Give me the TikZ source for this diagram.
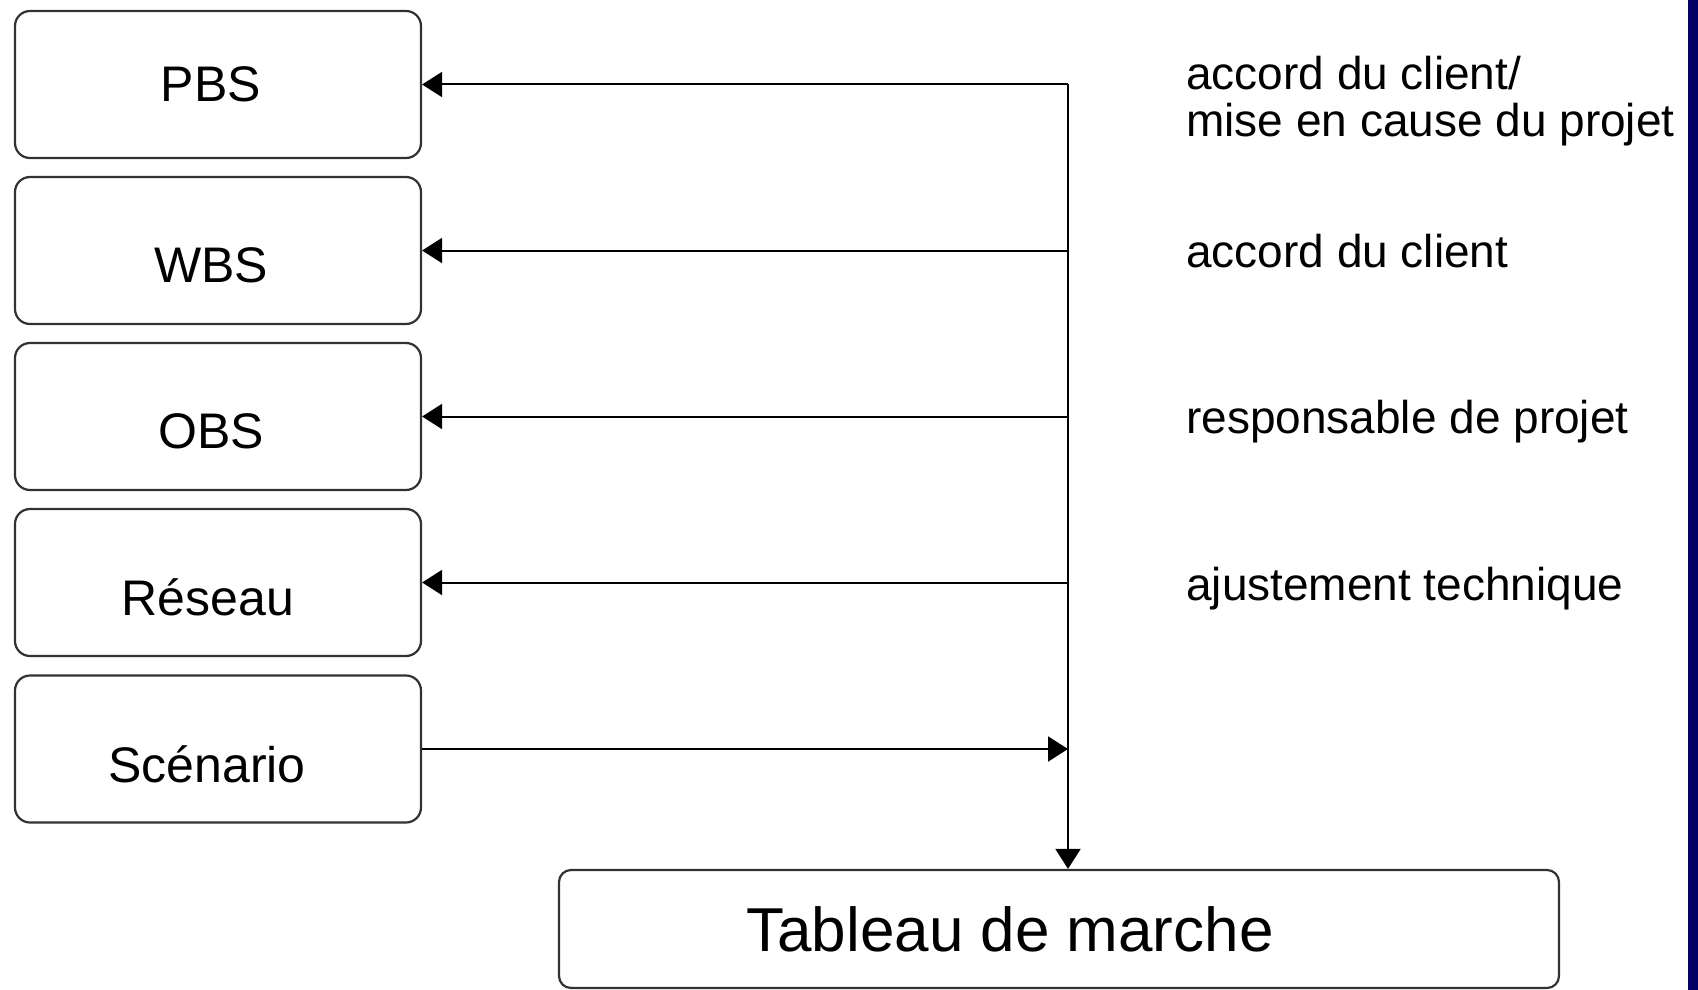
\documentclass[tikz,border=0pt]{standalone}
\usepackage{fontspec}
\setmainfont{Liberation Sans}
\usetikzlibrary{arrows.meta}
\definecolor{navybar}{RGB}{2,2,102}
\definecolor{boxline}{RGB}{50,50,50}
\begin{document}
\begin{tikzpicture}[x=1pt,y=-1pt,
  box/.style={draw=boxline,line width=2.2pt,rounded corners=15pt,minimum width=406pt,minimum height=147pt,inner sep=0pt},
  boxtext/.style={font=\fontsize{50}{56}\selectfont},
  note/.style={anchor=west,inner sep=0pt,align=left,font=\fontsize{46}{47}\selectfont},
  conn/.style={line width=2pt,-{Triangle[length=20pt,width=25pt]}}]
\useasboundingbox (0,0) rectangle (1698,990);
\fill[white] (0,0) rectangle (1698,990);
\fill[navybar] (1688,0) rectangle (1698,990);
% left boxes
\node[box,label={[boxtext,xshift=-7pt]center:PBS}] (pbs) at (218,84.5) {};
\node[box,label={[boxtext,xshift=-7pt,yshift=-15pt]center:WBS}] (wbs) at (218,250.5) {};
\node[box,label={[boxtext,xshift=-7pt,yshift=-15pt]center:OBS}] (obs) at (218,416.5) {};
\node[box,label={[boxtext,xshift=-10pt,yshift=-15pt]center:Réseau}] (res) at (218,582.5) {};
\node[box,label={[boxtext,xshift=-11pt,yshift=-15pt]center:Scénario}] (sce) at (218,749) {};
% bottom box
\node[draw=boxline,line width=2.2pt,rounded corners=12pt,minimum width=1000pt,minimum height=118pt,inner sep=0pt,
  label={[font=\fontsize{62}{70}\selectfont,xshift=-49pt]center:Tableau de marche}] (tab) at (1059,929) {};
% spine coordinates
\coordinate (s1) at (1068,84.5);
\coordinate (s2) at (1068,250.5);
\coordinate (s3) at (1068,416.5);
\coordinate (s4) at (1068,582.5);
\coordinate (s5) at (1068,749);
\draw[line width=2pt] (s1) -- (s5);
\draw[conn] (s5) -- (s5 |- tab.north);
\draw[conn] (s1) -- (pbs.east);
\draw[conn] (s2) -- (wbs.east);
\draw[conn] (s3) -- (obs.east);
\draw[conn] (s4) -- (res.east);
\draw[conn] (sce.east) -- (s5);
% notes
\node[note] (n1) at (1186,101.5) {accord du client/\\mise en cause du projet};
\node[note] (n2) at (1186,251) {accord du client};
\node[note] (n3) at (1186,421.5) {responsable de projet};
\node[note] (n4) at (1186,588.5) {ajustement technique};
\end{tikzpicture}
\end{document}
